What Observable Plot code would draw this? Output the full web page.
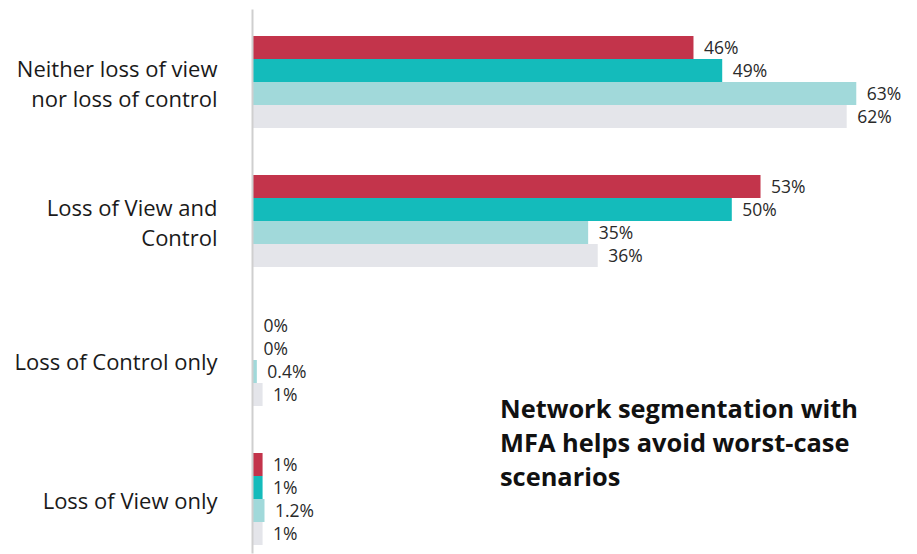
<!DOCTYPE html>
<html>
<head>
<meta charset="utf-8">
<script src="https://cdn.jsdelivr.net/npm/d3@7"></script>
<script src="https://cdn.jsdelivr.net/npm/@observablehq/plot@0.6"></script>
<style>
  html, body { margin: 0; padding: 0; background: #fff; }
  #wrap { position: relative; width: 917px; height: 554px; font-family: "Open Sans", sans-serif; }
  #note { position: absolute; left: 500px; top: 391px; font-family: "Open Sans", sans-serif; font-size: 25.4px; line-height: 34px; font-weight: 700; color: #111; white-space: nowrap; }
</style>
</head>
<body>
<div id="wrap">
  <div id="chart"></div>
  <div id="note">Network segmentation with<br>MFA helps avoid worst-case<br>scenarios</div>
</div>
<script>
const categories = ["Neither loss of view\nnor loss of control", "Loss of View and\nControl", "Loss of Control only", "Loss of View only"];
const series = ["Series 1", "Series 2", "Series 3", "Series 4"];
const colors = ["#C3344B", "#14BBBB", "#A1D9DA", "#E4E5EA"];
const series1 = [46, 53, 0, 1];
const series2 = [49, 50, 0, 1];
const series3 = [63, 35, 0.4, 1.2];
const series4 = [62, 36, 1, 1];

const allValues = [series1, series2, series3, series4];
const rows = [];
categories.forEach((c, i) => {
  series.forEach((s, j) => rows.push({category: c, series: s, value: allValues[j][i]}));
});

const chart = Plot.plot({
  width: 917,
  height: 554,
  marginLeft: 253,
  marginRight: 32,
  marginTop: 32,
  marginBottom: 6,
  style: {fontFamily: "'Open Sans', sans-serif", background: "#fff", overflow: "visible"},
  x: {domain: [0, 66], axis: null},
  y: {domain: series, axis: null, padding: 0},
  fy: {domain: categories, paddingInner: 0.314, paddingOuter: 0, label: null},
  color: {domain: series, range: colors},
  marks: [
    Plot.barX(rows, {x: "value", y: "series", fy: "category", fill: "series"}),
    Plot.text(rows, {x: "value", y: "series", fy: "category", text: d => d.value + "%", textAnchor: "start", dx: 10, fontSize: 17.5, fill: "#2a2a2a"}),
    Plot.frame({anchor: "left", facet: "super", stroke: "#cfcfcf", strokeWidth: 2, dx: -1, insetTop: -24, insetBottom: -6}),
    Plot.axisFy({anchor: "left", tickSize: 0, tickPadding: 36, fontSize: 22, lineHeight: 1.38, fill: "#1a1a1a", label: null})
  ]
});
document.getElementById("chart").appendChild(chart);
</script>
</body>
</html>
